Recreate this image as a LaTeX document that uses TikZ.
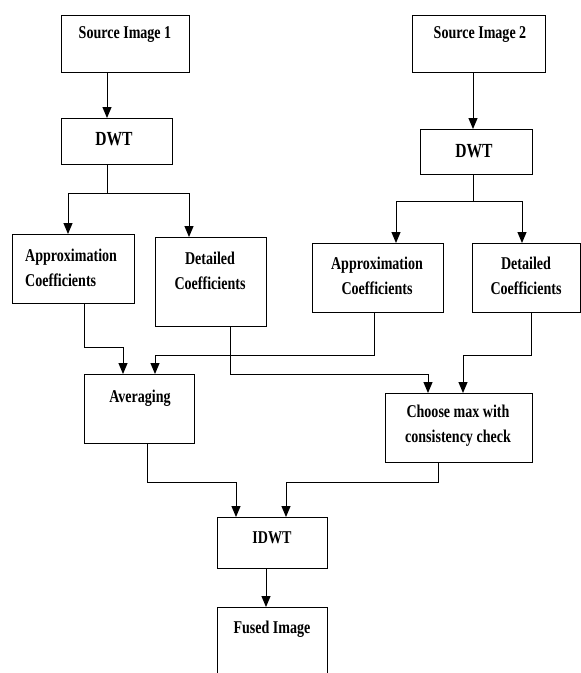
\documentclass[tikz,border=0pt]{standalone}
\usepackage{fontspec}
\setmainfont[FakeStretch=0.78]{Liberation Serif}
\usetikzlibrary{arrows.meta,calc}
\begin{document}
\begin{tikzpicture}[x=1pt,y=-1pt,
  box/.style={draw, line width=1.1pt, inner sep=0pt, anchor=north west},
  txt/.style={inner sep=0pt, font=\bfseries\fontsize{18}{25}\selectfont, align=center},
  arr/.style={line width=1pt, -{Triangle[length=11pt,width=9pt]}},
  ln/.style={line width=1pt}]
\useasboundingbox (0,0) rectangle (581,673);
% boxes
\node[box, minimum width=128, minimum height=57] (s1) at (61,15) {};
\node[box, minimum width=111, minimum height=46] (d1) at (61,118) {};
\node[box, minimum width=133, minimum height=57] (s2) at (412,15) {};
\node[box, minimum width=112, minimum height=45] (d2) at (420,129) {};
\node[box, minimum width=122, minimum height=69] (a1) at (12,234) {};
\node[box, minimum width=111, minimum height=89] (t1) at (155,237) {};
\node[box, minimum width=131, minimum height=69] (a2) at (312,243) {};
\node[box, minimum width=108, minimum height=69] (t2) at (472,243) {};
\node[box, minimum width=110, minimum height=69] (avg) at (84,374) {};
\node[box, minimum width=147, minimum height=69] (ch) at (385,393) {};
\node[box, minimum width=110, minimum height=51] (idwt) at (217,517) {};
\node[box, minimum width=110, minimum height=70] (fus) at (217,607) {};
% texts
\node[txt] (s1t) at (125,35) {Source Image 1};
\node[txt, font=\bfseries\fontsize{20}{25}\selectfont] (d1t) at (114,139) {DWT};
\node[txt] (s2t) at (480,35) {Source Image 2};
\node[txt, font=\bfseries\fontsize{20}{25}\selectfont] (d2t) at (474,151) {DWT};
\node[txt, align=left, anchor=west] (a1t) at (25,268) {Approximation\\Coefficients};
\node[txt] (t1t) at (210,271) {Detailed\\Coefficients};
\node[txt] (a2t) at (377,276) {Approximation\\Coefficients};
\node[txt] (t2t) at (526,276) {Detailed\\Coefficients};
\node[txt] (avgt) at (140,398) {Averaging};
\node[txt] (cht) at (458,426) {Choose max with\\consistency check};
\node[txt] (idwtt) at (272,538) {IDWT};
\node[txt] (fust) at (272,629) {Fused Image};
% connectors
\draw[arr] (s1.south -| 107,0) -- (d1.north -| 107,0);
\coordinate (j1) at (107,193);
\draw[ln] (d1.south -| j1) -- (j1);
\draw[arr] (j1) -| (a1.north -| 68,0);
\draw[arr] (j1) -| (t1.north -| 189,0);
\draw[arr] (s2.south -| 473,0) -- (d2.north -| 473,0);
\coordinate (j2) at (473,201);
\draw[ln] (d2.south -| j2) -- (j2);
\draw[arr] (j2) -| (a2.north -| 396,0);
\draw[arr] (j2) -| (t2.north -| 522,0);
\draw[arr] (a1.south -| 84,0) -- (84,347) -| (avg.north -| 123,0);
\draw[arr] (a2.south -| 374,0) -- (374,355) -| (avg.north -| 155,0);
\draw[arr] (t1.south -| 230,0) -- (230,374) -| (ch.north -| 428,0);
\draw[arr] (t2.south -| 531,0) -- (531,355) -| (ch.north -| 463,0);
\draw[arr] (avg.south -| 147,0) -- (147,482) -| (idwt.north -| 236,0);
\draw[arr] (ch.south -| 438,0) -- (438,482) -| (idwt.north -| 286,0);
\draw[arr] (idwt.south -| 266,0) -- (fus.north -| 266,0);
\end{tikzpicture}
\end{document}
